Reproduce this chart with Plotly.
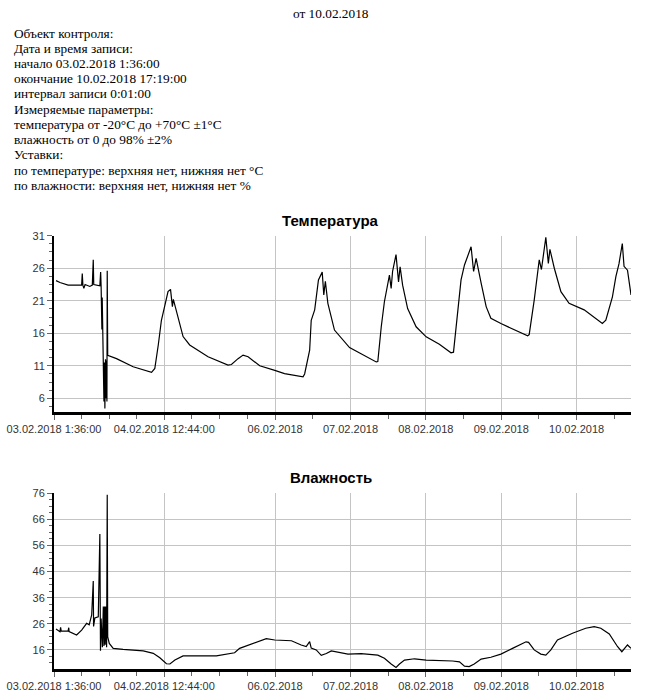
import pandas as pd
import plotly.graph_objects as go

START = pd.Timestamp("2018-02-03 01:36:00")
END = pd.Timestamp("2018-02-10 17:19:00")

# ---- Temperature: hours since start, value (°C) ----
temp_hours = [0.64, 1.9, 4.5, 8.8, 9.0, 9.2, 9.5, 9.9, 11.4, 12.2, 12.5, 12.65, 14.6, 14.85, 15.0,
              15.1, 15.25, 15.35, 15.5, 15.7, 15.9, 16.05, 16.2, 16.4, 16.5, 16.7, 16.85, 16.95, 17.1,
              19.9, 25.2, 31.06, 32.1, 33.2, 34.2, 35.3, 36.3, 37.1, 37.7, 38.0, 39.0, 41.1, 43.2,
              46.4, 49.05, 55.4, 56.5, 58.6, 60.2, 61.8, 65.5, 70.3, 73.4, 79.3, 79.8, 81.4, 81.9,
              83.0, 84.2, 85.4, 85.9, 86.4, 87.2, 89.3, 92.5, 94.1, 102.6, 103.1, 104.2, 105.2,
              106.8, 107.35, 107.8, 108.9, 109.7, 110.2, 111.0, 112.6, 115.3, 118.5, 122.7, 126.4,
              127.2, 128.5, 129.6, 130.7, 132.8, 133.6, 134.4, 136.0, 137.6, 139.1, 142.3, 150.8,
              151.3, 152.9, 154.5, 155.2, 156.6, 157.4, 157.9, 159.3, 161.4, 164.0, 168.8, 174.6,
              175.7, 177.8, 178.9, 179.9, 180.95, 181.5, 182.6, 183.72]
temp_values = [24.1, 23.8, 23.4, 23.4, 25.2, 23.4, 22.9, 23.5, 23.2, 23.4, 27.3, 23.5, 23.3, 25.4, 23.3,
               19.0, 16.6, 21.5, 17.0, 12.0, 5.5, 11.5, 4.45, 12.0, 6.0, 11.8, 5.5, 25.6, 12.6,
               12.1, 10.85, 10.0, 10.6, 14.2, 18.0, 20.3, 22.4, 22.75, 20.1, 21.2, 19.3, 15.5, 14.2,
               13.15, 12.4, 11.1, 11.2, 12.1, 12.65, 12.4, 11.0, 10.3, 9.8, 9.3, 9.75, 13.4, 18.0,
               19.6, 24.2, 25.4, 21.9, 24.0, 20.6, 16.5, 14.7, 13.8, 11.6, 11.65, 17.0, 20.85,
               24.95, 22.9, 25.5, 28.1, 23.9, 26.2, 23.4, 19.8, 17.0, 15.45, 14.3, 13.0,
               13.1, 18.8, 24.2, 26.5, 29.3, 25.5, 27.5, 23.7, 20.1, 18.3, 17.5, 15.6,
               15.8, 21.1, 27.3, 25.8, 30.75, 26.75, 28.9, 26.0, 22.4, 20.6, 19.6, 17.5,
               18.0, 21.6, 24.7, 26.7, 29.8, 26.3, 25.7, 21.9]

# ---- Humidity: hours since start, value (%) ----
hum_hours = [0.64, 1.9, 2.1, 2.3, 4.5, 4.7, 4.8, 7.2, 8.8, 10.4, 11.2, 12.0, 12.5, 12.6, 13.0, 14.1,
             14.6, 14.8, 15.0, 15.4, 15.7, 15.9, 16.1, 16.3, 16.5, 16.75, 16.95, 17.1, 17.6, 18.85,
             22.0, 28.4, 31.6, 33.7, 35.8, 36.9, 38.5, 41.1, 51.7, 57.5, 59.1, 64.9, 67.6, 70.3,
             75.6, 78.7, 80.3, 81.4, 81.9, 83.5, 85.1, 86.7, 88.3, 93.6, 97.8, 103.1, 105.2,
             107.35, 108.9, 110.0, 111.6, 114.8, 118.5, 126.9, 129.1, 130.7, 132.2, 133.8, 136.0,
             139.1, 142.3, 146.0, 150.3, 151.1, 152.9, 155.0, 156.6, 158.2, 160.3, 165.1, 169.3,
             172.0, 174.1, 176.8, 178.4, 179.4, 180.8, 181.6, 182.6, 183.72]
hum_values = [24.0, 23.0, 24.6, 23.2, 23.3, 24.5, 23.0, 21.7, 23.6, 26.2, 25.6, 29.4, 42.4, 25.0, 28.2, 28.7,
              60.4, 15.7, 28.0, 17.0, 32.6, 17.5, 32.6, 18.0, 32.6, 17.0, 75.4, 21.0, 18.5, 16.6,
              16.2, 15.6, 14.7, 13.0, 10.7, 10.6, 12.1, 13.7, 13.7, 14.9, 16.6, 19.1, 20.3, 19.8,
              19.5, 17.9, 17.3, 19.2, 16.7, 16.0, 13.9, 14.6, 15.6, 14.4, 14.6, 14.0, 12.8,
              10.6, 9.3, 10.6, 12.1, 12.6, 12.1, 11.75, 11.4, 9.8, 9.6, 10.6, 12.5,
              13.2, 14.4, 16.6, 19.1, 18.9, 16.0, 14.4, 14.0, 16.0, 19.8, 22.4, 24.3,
              24.9, 24.3, 22.1, 19.1, 17.3, 15.3, 16.6, 17.9, 16.6]

# ---- Axis ticks ----
x_tick_vals = ["2018-02-03 01:36:00", "2018-02-04 12:44:00", "2018-02-06", "2018-02-07",
               "2018-02-08", "2018-02-09", "2018-02-10"]
x_tick_text = ["03.02.2018 1:36:00", "04.02.2018 12:44:00", "06.02.2018", "07.02.2018",
               "08.02.2018", "09.02.2018", "10.02.2018"]
x_minor_vals = ["2018-02-03 10:23", "2018-02-03 19:10", "2018-02-04 03:57",
                "2018-02-04 21:31", "2018-02-05 06:18", "2018-02-05 15:05",
                "2018-02-06 12:00", "2018-02-07 12:00", "2018-02-08 12:00",
                "2018-02-09 12:00", "2018-02-10 12:00"]
temp_ticks = [6, 11, 16, 21, 26, 31]
hum_ticks = [16, 26, 36, 46, 56, 66, 76]

header_title = "от 10.02.2018"
header_lines = [
    "Объект контроля:",
    "Дата и время записи:",
    "начало 03.02.2018 1:36:00",
    "окончание 10.02.2018 17:19:00",
    "интервал записи 0:01:00",
    "Измеряемые параметры:",
    "температура от -20°C до +70°C ±1°C",
    "влажность от 0 до 98% ±2%",
    "Уставки:",
    "по температуре: верхняя нет, нижняя нет °C",
    "по влажности: верхняя нет, нижняя нет %",
]

W, H = 656, 699


def px_x(p):
    return p / W


def px_y(p):
    return 1 - p / H


temp_x = [START + pd.Timedelta(hours=h) for h in temp_hours]
hum_x = [START + pd.Timedelta(hours=h) for h in hum_hours]

fig = go.Figure()
fig.add_trace(go.Scatter(x=temp_x, y=temp_values, mode="lines",
                         line=dict(color="black", width=1.2), xaxis="x", yaxis="y",
                         showlegend=False, hoverinfo="skip"))
fig.add_trace(go.Scatter(x=hum_x, y=hum_values, mode="lines",
                         line=dict(color="black", width=1.2), xaxis="x2", yaxis="y2",
                         showlegend=False, hoverinfo="skip"))

tick_font = dict(family="Liberation Sans, Arial, sans-serif", size=11, color="#333")
xdom = [px_x(54), px_x(631)]


def xaxis_cfg(anchor):
    return dict(domain=xdom, anchor=anchor, type="date", range=[START, END],
                automargin=False, ticklabeloverflow="allow",
                tickmode="array", tickvals=x_tick_vals, ticktext=x_tick_text,
                showgrid=True, gridcolor="#c4c4c4", gridwidth=1,
                showline=True, linecolor="black", linewidth=3,
                ticks="outside", ticklen=5, tickcolor="#666", tickwidth=1,
                tickfont=tick_font, zeroline=False,
                minor=dict(tickmode="array", tickvals=x_minor_vals, ticks="outside",
                           ticklen=4, tickcolor="#666", showgrid=False))


def yaxis_cfg(anchor, dom, rng, tvals, mdt, m0):
    return dict(domain=dom, anchor=anchor, range=rng, tickmode="array", tickvals=tvals,
                automargin=False, ticklabeloverflow="allow",
                showgrid=True, gridcolor="#c4c4c4", gridwidth=1,
                showline=True, linecolor="black", linewidth=2,
                ticks="outside", ticklen=5, tickcolor="#666", tickwidth=1,
                tickfont=tick_font, zeroline=False,
                minor=dict(dtick=mdt, tick0=m0, ticks="outside", ticklen=3,
                           tickcolor="#666", showgrid=False))


fig.update_layout(
    width=W, height=H,
    margin=dict(l=0, r=0, t=0, b=0, autoexpand=False),
    paper_bgcolor="white", plot_bgcolor="white",
    xaxis=xaxis_cfg("y"),
    yaxis=yaxis_cfg("x", [px_y(412), px_y(235.7)], [3.9, 31], temp_ticks, 1.25, 6),
    xaxis2=xaxis_cfg("y2"),
    yaxis2=yaxis_cfg("x2", [px_y(668.7), px_y(493.3)], [8.8, 76], hum_ticks, 2.5, 16),
)

annotations = []
serif = dict(family="Liberation Serif, Times New Roman, serif", size=13.3, color="black")
annotations.append(dict(text=header_title, x=px_x(331), y=px_y(13.5), xref="paper", yref="paper",
                        xanchor="center", yanchor="middle", showarrow=False, font=serif))
for i, line in enumerate(header_lines):
    annotations.append(dict(text=line, x=px_x(12), y=px_y(33.2 + i * 15.2), xref="paper",
                            yref="paper", xanchor="left", yanchor="middle", showarrow=False,
                            font=serif))
title_font = dict(family="Liberation Sans, Arial, sans-serif", size=15, color="black")
annotations.append(dict(text="<b>Температура</b>", x=px_x(330), y=px_y(220), xref="paper",
                        yref="paper", xanchor="center", yanchor="middle", showarrow=False,
                        font=title_font))
annotations.append(dict(text="<b>Влажность</b>", x=px_x(331), y=px_y(477), xref="paper",
                        yref="paper", xanchor="center", yanchor="middle", showarrow=False,
                        font=title_font))
fig.update_layout(annotations=annotations)

# remove the browser's default 8 px body margin so the figure fills the window
fig.write_html("out.html", config={"displayModeBar": False},
               post_script="document.body.style.margin='0';document.body.style.overflow='hidden';")
